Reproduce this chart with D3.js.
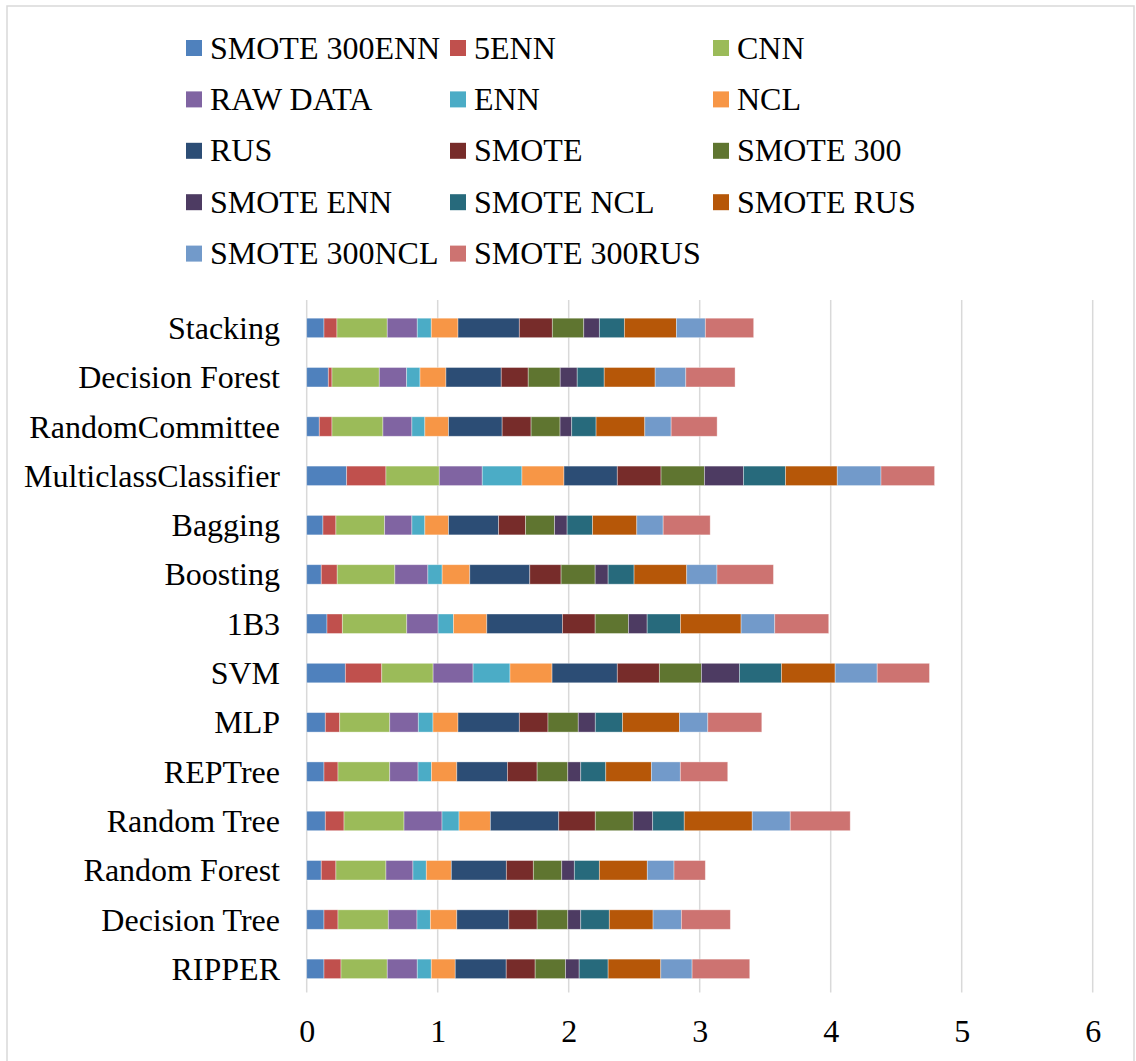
<!DOCTYPE html>
<html>
<head>
<meta charset="utf-8">
<script src="https://cdn.jsdelivr.net/npm/d3@7"></script>
<style>
  html, body { margin: 0; padding: 0; background: #fff; }
  svg { display: block; }
</style>
</head>
<body>
<svg id="chart" width="1136" height="1061"></svg>
<script>
// Classifiers, top to bottom
const categories = ["Stacking", "Decision Forest", "RandomCommittee", "MulticlassClassifier",
  "Bagging", "Boosting", "1B3", "SVM", "MLP", "REPTree", "Random Tree", "Random Forest",
  "Decision Tree", "RIPPER"];

// Series names in stacking order
const seriesNames = ["SMOTE 300ENN", "5ENN", "CNN", "RAW DATA", "ENN", "NCL", "RUS", "SMOTE",
  "SMOTE 300", "SMOTE ENN", "SMOTE NCL", "SMOTE RUS", "SMOTE 300NCL", "SMOTE 300RUS"];

// One value per classifier (same order as categories)
const smote300Enn = [0.132, 0.165, 0.096, 0.305, 0.124, 0.111, 0.155, 0.295, 0.142, 0.132, 0.142, 0.111, 0.132, 0.132];
const enn5        = [0.099, 0.028, 0.097, 0.300, 0.099, 0.122, 0.117, 0.278, 0.110, 0.107, 0.143, 0.112, 0.107, 0.130];
const cnn         = [0.384, 0.361, 0.389, 0.407, 0.372, 0.440, 0.492, 0.392, 0.382, 0.395, 0.458, 0.382, 0.384, 0.353];
const rawData     = [0.229, 0.209, 0.221, 0.328, 0.208, 0.252, 0.239, 0.305, 0.218, 0.216, 0.290, 0.206, 0.219, 0.229];
const enn         = [0.107, 0.102, 0.099, 0.303, 0.099, 0.109, 0.117, 0.282, 0.112, 0.102, 0.130, 0.102, 0.102, 0.107];
const ncl         = [0.204, 0.198, 0.181, 0.321, 0.181, 0.211, 0.255, 0.321, 0.191, 0.194, 0.239, 0.191, 0.202, 0.183];
const rus         = [0.468, 0.422, 0.409, 0.407, 0.382, 0.458, 0.577, 0.498, 0.468, 0.386, 0.522, 0.420, 0.397, 0.389];
const smote       = [0.252, 0.206, 0.221, 0.334, 0.206, 0.239, 0.250, 0.321, 0.219, 0.227, 0.279, 0.206, 0.216, 0.221];
const smote300    = [0.240, 0.244, 0.221, 0.331, 0.221, 0.260, 0.254, 0.321, 0.231, 0.234, 0.290, 0.217, 0.234, 0.232];
const smoteEnn    = [0.119, 0.130, 0.089, 0.298, 0.096, 0.099, 0.143, 0.290, 0.130, 0.099, 0.148, 0.096, 0.099, 0.104];
const smoteNcl    = [0.191, 0.206, 0.186, 0.321, 0.194, 0.198, 0.254, 0.321, 0.208, 0.191, 0.241, 0.191, 0.218, 0.221];
const smoteRus    = [0.397, 0.389, 0.372, 0.395, 0.338, 0.402, 0.463, 0.410, 0.434, 0.348, 0.519, 0.366, 0.334, 0.402];
const smote300Ncl = [0.221, 0.234, 0.201, 0.334, 0.201, 0.231, 0.257, 0.321, 0.217, 0.221, 0.290, 0.204, 0.216, 0.239];
const smote300Rus = [0.369, 0.376, 0.351, 0.409, 0.359, 0.431, 0.412, 0.399, 0.412, 0.362, 0.458, 0.239, 0.374, 0.440];

const seriesValues = [smote300Enn, enn5, cnn, rawData, enn, ncl, rus, smote, smote300,
  smoteEnn, smoteNcl, smoteRus, smote300Ncl, smote300Rus];

const xTicks = [0, 1, 2, 3, 4, 5, 6];

const colors = ["#4F81BD", "#C0504D", "#9BBB59", "#8064A2", "#4BACC6", "#F79646", "#2C4D75",
  "#772C2A", "#5F7530", "#4D3B62", "#276A7C", "#B65708", "#729ACA", "#CD7371"];

// Table for d3.stack: one row per classifier
const rows = categories.map((c, i) => {
  const r = { category: c };
  seriesNames.forEach((s, j) => { r[s] = seriesValues[j][i]; });
  return r;
});

const svg = d3.select("#chart");
const font = "'Liberation Serif', 'Times New Roman', serif";

// Outer frame
svg.append("rect")
  .attr("x", 7).attr("y", 6).attr("width", 1127).attr("height", 1060)
  .attr("fill", "#fff").attr("stroke", "#d9d9d9").attr("stroke-width", 1.5);

const x = d3.scaleLinear().domain([0, 6]).range([306.7, 1092.7]);
const y = d3.scaleBand().domain(categories).range([303.4, 993.4]).paddingInner(0.605).paddingOuter(0.3);

// Vertical gridlines
svg.append("g").selectAll("line").data(xTicks).join("line")
  .attr("x1", d => x(d)).attr("x2", d => x(d))
  .attr("y1", 300).attr("y2", 992.5)
  .attr("stroke", "#d9d9d9").attr("stroke-width", 1.5);

// Stacked bars
const stacked = d3.stack().keys(seriesNames)(rows);
svg.append("g").selectAll("g").data(stacked).join("g")
  .attr("fill", (d, i) => colors[i])
  .selectAll("rect").data(d => d).join("rect")
  .attr("x", d => x(d[0]))
  .attr("y", d => y(d.data.category))
  .attr("width", d => x(d[1]) - x(d[0]))
  .attr("height", y.bandwidth())
  .attr("stroke", "rgba(255,255,255,0.45)")
  .attr("stroke-width", 0.8);

// Category labels
svg.append("g").selectAll("text").data(categories).join("text")
  .attr("x", 280)
  .attr("y", d => y(d) + y.bandwidth() / 2 + 11)
  .attr("text-anchor", "end")
  .attr("font-family", font).attr("font-size", 32).attr("fill", "#000")
  .text(d => d);

// Value axis labels
const xAxis = d3.axisBottom(x).tickValues(xTicks).tickSize(0).tickPadding(0).tickFormat(d3.format("d"));
const axisG = svg.append("g").attr("transform", "translate(0,1020)").call(xAxis);
axisG.select(".domain").remove();
axisG.selectAll("text")
  .attr("font-family", font).attr("font-size", 32).attr("fill", "#000")
  .attr("dy", "0.68em");

// Legend: three columns, row-major
const legendCols = [186, 450, 713];
const legendRowY = 48, legendRowStep = 51.4;
const legend = svg.append("g").selectAll("g").data(seriesNames).join("g")
  .attr("transform", (d, i) => `translate(${legendCols[i % 3]},${legendRowY + Math.floor(i / 3) * legendRowStep})`);
legend.append("rect")
  .attr("x", 0).attr("y", -8).attr("width", 16).attr("height", 16)
  .attr("fill", (d, i) => colors[i]);
legend.append("text")
  .attr("x", 24).attr("y", 10.5)
  .attr("font-family", font).attr("font-size", 32).attr("fill", "#000")
  .text(d => d);
</script>
</body>
</html>
